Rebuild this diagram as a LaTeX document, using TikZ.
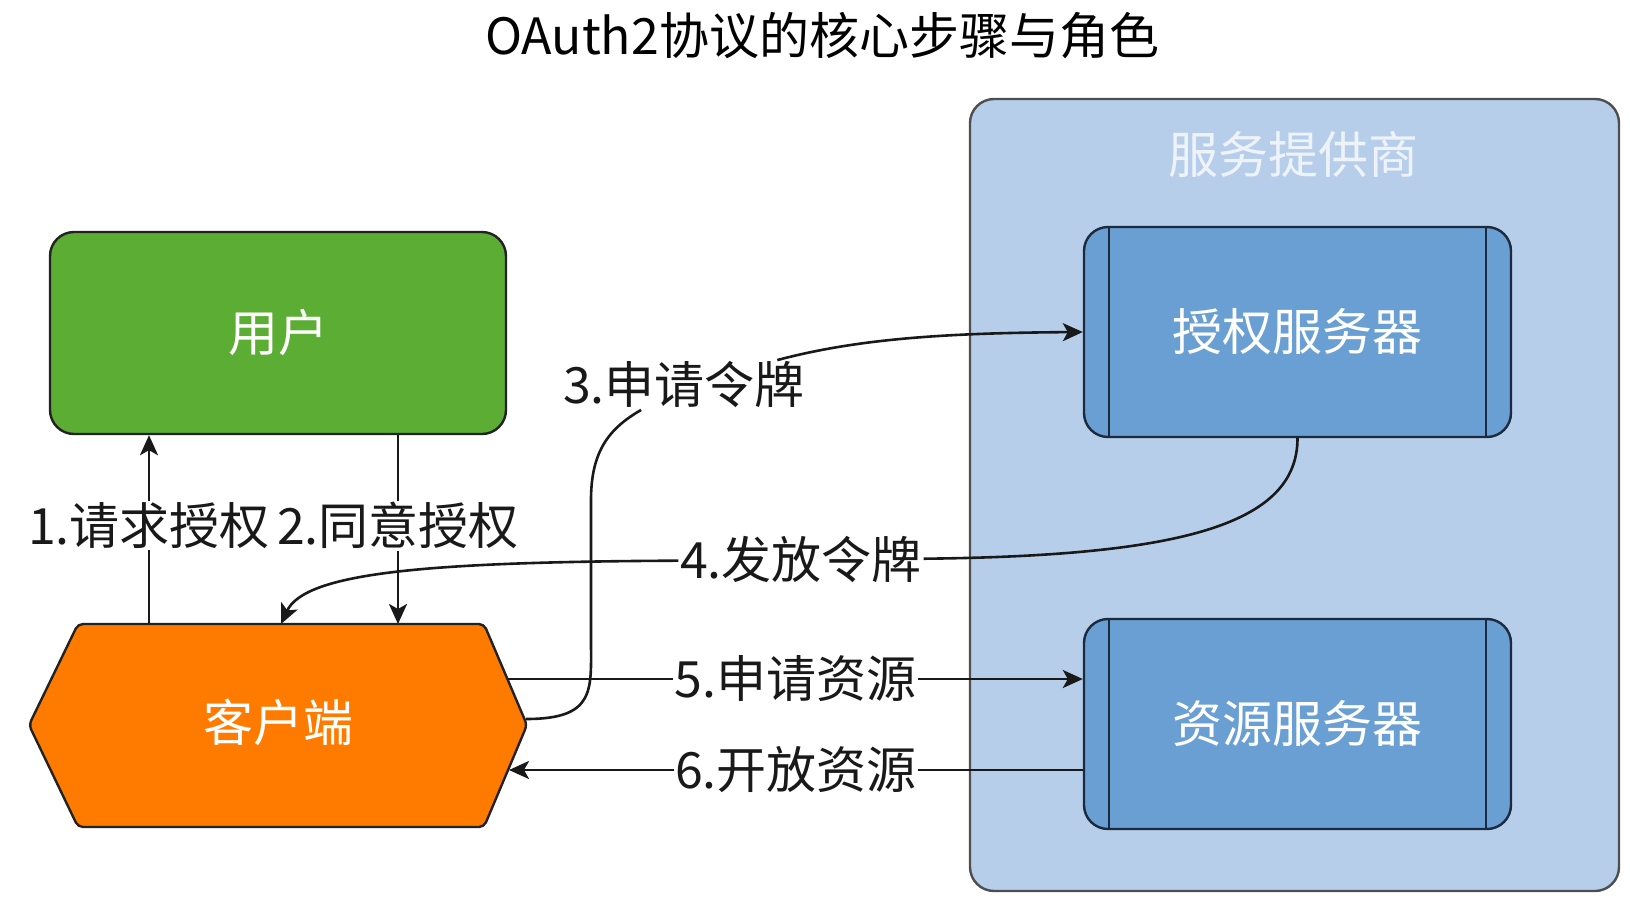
\documentclass[tikz,border=0pt]{standalone}
\usepackage{fontspec}
\setmainfont{Noto Sans CJK SC}
\usetikzlibrary{arrows.meta,calc}
\definecolor{ugreen}{HTML}{5BAD33}
\definecolor{corange}{HTML}{FF7B00}
\definecolor{spblue}{HTML}{B7CEEA}
\definecolor{srvblue}{HTML}{6A9FD3}
\definecolor{srvline}{HTML}{1C2A3E}
\definecolor{sptext}{HTML}{EEF3FA}
\definecolor{edge}{HTML}{222222}
\begin{document}
\begin{tikzpicture}[x=1pt,y=-1pt,
  every node/.style={font=\fontsize{50}{60}\selectfont, inner sep=0pt},
  userbox/.style={draw=edge, line width=2.4pt, fill=ugreen, rounded corners=24pt,
    minimum width=456pt, minimum height=202pt, text=white},
  clientbox/.style={minimum width=498pt, minimum height=203pt, text=white},
  hexfill/.style={draw=edge, line width=2.4pt, fill=corange, rounded corners=5pt},
  container/.style={draw=edge!80, line width=2.4pt, fill=spblue, rounded corners=24pt,
    minimum width=649pt, minimum height=792pt},
  srvbox/.style={draw=srvline, line width=2.4pt, fill=srvblue, rounded corners=24pt,
    minimum width=427pt, minimum height=210pt, text=white},
  srvsep/.style={draw=srvline, line width=2.4pt},
  lbl/.style={fill=white, inner sep=1.5pt, text=black!90},
  conn/.style={line width=2.6pt, draw=black!90},
  arr/.style={conn, -{Stealth[length=20pt,width=18pt,inset=5pt]}}
]
\useasboundingbox (0,0) rectangle (1630,900);

% title
\node (title) at (822,36) {OAuth2协议的核心步骤与角色};

% service provider
\node[container] (sp) at (1294.5,495) {};
\node[text=sptext] (sptitle) at (1293,154) {服务提供商};

\node[srvbox] (auth) at (1297.5,332) {授权服务器};
\draw[srvsep] ([xshift=26pt]auth.north west) -- ([xshift=26pt]auth.south west);
\draw[srvsep] ([xshift=-26pt]auth.north east) -- ([xshift=-26pt]auth.south east);

\node[srvbox] (res) at (1297.5,724) {资源服务器};
\draw[srvsep] ([xshift=26pt]res.north west) -- ([xshift=26pt]res.south west);
\draw[srvsep] ([xshift=-26pt]res.north east) -- ([xshift=-26pt]res.south east);

% user
\node[userbox] (user) at (278,333) {用户};

% client hexagon
\path[hexfill] (29,725) -- (78,624) -- (484,624) -- (527,725) -- (484,827) -- (78,827) -- cycle;
\node[clientbox] (client) at (278,722) {客户端};

% connector end points on the hexagon
\coordinate (c1) at (149,624);
\coordinate (c2) at (398,624);
\coordinate (c3) at (526,719);
\coordinate (c4) at (281,624);
\coordinate (c5) at (508,679);
\coordinate (c6) at (509,770);

% 1 and 2
\draw[arr] (c1) -- (c1 |- user.south) node[lbl,pos=0.52] (l1) {1.请求授权};
\draw[arr] (c2 |- user.south) -- (c2) node[lbl,pos=0.48] (l2) {2.同意授权};

% 3
\node[lbl] (l3) at (684,385) {3.申请令牌};
\draw[conn] (c3) .. controls (596,719) and (591,690) .. (591,640) -- (591,500)
  .. controls (591,450) and (610,428) .. (l3);
\draw[arr] (l3) .. controls (860,338) and (950,333) .. (auth.west);

% 4
\node[lbl] (l4) at (801,560) {4.发放令牌};
\draw[conn] (auth.south) .. controls (1297.5,525) and (1180,556) .. (l4);
\draw[arr] (l4) .. controls (430,562) and (305,572) .. (c4);

% 5 and 6
\draw[arr] (c5) -- (c5 -| res.west) node[lbl,midway] (l5) {5.申请资源};
\draw[arr] (c6 -| res.west) -- (c6) node[lbl,midway] (l6) {6.开放资源};
\end{tikzpicture}
\end{document}
